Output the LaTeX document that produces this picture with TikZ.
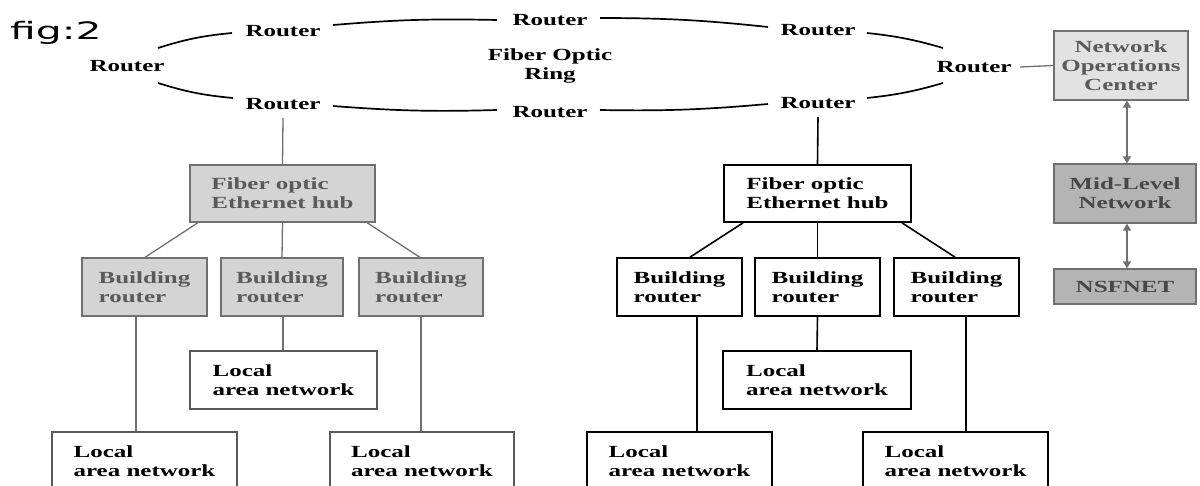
\documentclass[tikz,border=0pt]{standalone}
\usepackage{fontspec}
\setmainfont{Liberation Serif}[FakeStretch=1.47]
\newfontfamily\figfont{DejaVu Sans}[FakeStretch=1.7]
\usetikzlibrary{arrows.meta}
\definecolor{inkgrey}{HTML}{5A5A5A}
\definecolor{linegrey}{HTML}{707070}
\definecolor{lightfill}{HTML}{D4D4D4}
\definecolor{midfill}{HTML}{B4B4B4}
\definecolor{nocfill}{HTML}{E2E2E2}
\begin{document}
\begin{tikzpicture}[x=1pt,y=-1pt,
  lbl/.style={font=\fontsize{17}{19}\selectfont\bfseries},
  router/.style={lbl, inner sep=0pt},
  ringline/.style={line width=1.7pt, draw=black},
  greybox/.style={lbl, draw=linegrey, fill=lightfill, text=inkgrey, line width=1.3pt, align=left, inner sep=0pt},
  plainbox/.style={lbl, draw=black, line width=1.7pt, align=left, inner sep=0pt},
  thinbox/.style={lbl, draw=inkgrey, line width=1.2pt, align=left, inner sep=0pt},
  greylink/.style={draw=linegrey, line width=1.3pt},
  blacklink/.style={draw=black, line width=1.6pt},
  twoway/.style={draw=linegrey, line width=1.8pt, {Triangle[width=8pt,length=7pt]}-{Triangle[width=8pt,length=7pt]}},
]
\useasboundingbox (0,0) rectangle (1200,485);
\clip (0,0) rectangle (1200,485);
\fill[white] (0,0) rectangle (1200,485);

% caption
\node[font=\figfont\fontsize{24}{24}\selectfont, anchor=base west, inner sep=0pt] (fig) at (10,39) {fig:2};

% routers on the fiber ring
\node[router] (rL)  at (127,66)  {Router};
\node[router] (rTL) at (283,31)  {Router};
\node[router] (rT)  at (550,20)  {Router};
\node[router] (rTR) at (818,30)  {Router};
\node[router] (rR)  at (974,67)  {Router};
\node[router] (rBR) at (818,103) {Router};
\node[router] (rB)  at (550,112) {Router};
\node[router] (rBL) at (283,104) {Router};
\node[lbl, align=center] (ring) at (550,66) {Fiber Optic\\Ring};

% ring segments
\draw[ringline] ([shift={(31,-18)}]rL.center) to[bend left=6] ([shift={(-51,2)}]rTL.center);
\draw[ringline] ([shift={(50,-6)}]rTL.center) to[bend left=3] ([shift={(-53,0)}]rT.center);
\draw[ringline] ([shift={(50,-2)}]rT.center) to[bend left=3] ([shift={(-50,-3)}]rTR.center);
\draw[ringline] ([shift={(49,3)}]rTR.center) to[bend left=5] ([shift={(-31,-19)}]rR.center);
\draw[ringline] ([shift={(-31,16)}]rR.center) to[bend left=5] ([shift={(49,-5)}]rBR.center);
\draw[ringline] ([shift={(-50,1)}]rBR.center) to[bend left=3] ([shift={(50,-2)}]rB.center);
\draw[ringline] ([shift={(-53,-2)}]rB.center) to[bend left=3] ([shift={(50,2)}]rBL.center);
\draw[ringline] ([shift={(-50,-6)}]rBL.center) to[bend left=6] ([shift={(31,17)}]rL.center);

% national side
\node[greybox, fill=nocfill, align=center, minimum width=134, minimum height=69] (noc) at (1121,65.5) {Network\\Operations\\Center};
\node[greybox, fill=midfill, text=black!72, align=center, minimum width=142, minimum height=59] (mid) at (1125,193.5) {Mid-Level\\Network};
\node[greybox, fill=midfill, text=black!72, align=center, minimum width=142, minimum height=35] (nsf) at (1125,286.5) {NSFNET};
\draw[greylink] ([shift={(46,0)}]rR.center) -- (noc.west);
\draw[twoway] ([shift={(6,0)}]noc.south) -- ([shift={(2,0)}]mid.north);
\draw[twoway] ([shift={(2,0)}]mid.south) -- ([shift={(2,0)}]nsf.north);

% left campus (grey)
\node[greybox, minimum width=185, minimum height=57] (hubL) at (282.5,193.5) {Fiber optic\\Ethernet hub};
\node[greybox, minimum width=125, minimum height=58] (br1) at (144.5,287) {Building\\router};
\node[greybox, minimum width=122, minimum height=58] (br2) at (282,287) {Building\\router};
\node[greybox, minimum width=124, minimum height=58] (br3) at (421,287) {Building\\router};
\node[thinbox, minimum width=185, minimum height=58] (lan1) at (144.5,461) {Local\\area network};
\node[thinbox, minimum width=187, minimum height=58] (lan2) at (283.5,380) {Local\\area network};
\node[thinbox, minimum width=184, minimum height=58] (lan3) at (422,461) {Local\\area network};

\draw[greylink] ([shift={(0,14)}]rBL.center) -- (hubL.north);
\draw[greylink] ([shift={(-84.5,0)}]hubL.south) -- ([shift={(0.5,0)}]br1.north);
\draw[greylink] (hubL.south) -- (br2.north);
\draw[greylink] ([shift={(84.5,0)}]hubL.south) -- ([shift={(-1,0)}]br3.north);
\draw[greylink] ([shift={(-8.5,0)}]br1.south) -- ([shift={(-8.5,0)}]lan1.north);
\draw[greylink] ([shift={(1,0)}]br2.south) -- ([shift={(-0.5,0)}]lan2.north);
\draw[greylink] (br3.south) -- ([shift={(-1,0)}]lan3.north);

% right campus (black)
\node[plainbox, minimum width=187, minimum height=57] (hubR) at (817.5,193.5) {Fiber optic\\Ethernet hub};
\node[plainbox, minimum width=125, minimum height=58] (br4) at (679.5,287) {Building\\router};
\node[plainbox, minimum width=125, minimum height=58] (br5) at (817.5,287) {Building\\router};
\node[plainbox, minimum width=125, minimum height=58] (br6) at (956.5,287) {Building\\router};
\node[plainbox, minimum width=185, minimum height=58] (lan4) at (679.5,461) {Local\\area network};
\node[plainbox, minimum width=188, minimum height=58] (lan5) at (817,380) {Local\\area network};
\node[plainbox, minimum width=185, minimum height=58] (lan6) at (955.5,461) {Local\\area network};

\draw[blacklink] ([shift={(0,14)}]rBR.center) -- (hubR.north);
\draw[blacklink] ([shift={(-74.5,0)}]hubR.south) -- ([shift={(10.5,0)}]br4.north);
\draw[blacklink] (hubR.south) -- (br5.north);
\draw[blacklink] ([shift={(84.5,0)}]hubR.south) -- ([shift={(-1.5,0)}]br6.north);
\draw[blacklink] ([shift={(17.5,0)}]br4.south) -- ([shift={(17.5,0)}]lan4.north);
\draw[blacklink] (br5.south) -- (lan5.north);
\draw[blacklink] ([shift={(9.5,0)}]br6.south) -- ([shift={(10.5,0)}]lan6.north);
\end{tikzpicture}
\end{document}
